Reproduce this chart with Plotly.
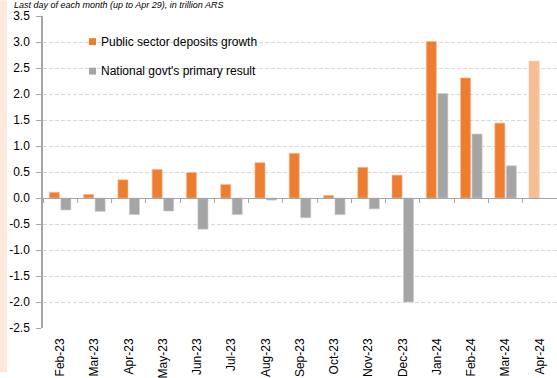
import plotly.graph_objects as go

months = ["Feb-23", "Mar-23", "Apr-23", "May-23", "Jun-23", "Jul-23", "Aug-23",
          "Sep-23", "Oct-23", "Nov-23", "Dec-23", "Jan-24", "Feb-24", "Mar-24", "Apr-24"]
deposits_growth = [0.11, 0.07, 0.35, 0.55, 0.49, 0.26, 0.68, 0.86, 0.05, 0.59, 0.44,
                   3.01, 2.31, 1.44, 2.63]
primary_result = [-0.23, -0.26, -0.32, -0.25, -0.60, -0.32, -0.04, -0.38, -0.32, -0.21,
                  -2.00, 2.01, 1.23, 0.62, None]
y_ticks = [-2.5, -2.0, -1.5, -1.0, -0.5, 0.0, 0.5, 1.0, 1.5, 2.0, 2.5, 3.0, 3.5]

ORANGE = "#ED7D31"
ORANGE_LIGHT = "#F5BE96"
GRAY = "#A5A5A5"
FONT = "Liberation Sans"

W, H = 557, 378
ML, MR, MT, MB = 43, 0, 16, 45
ph = H - MT - MB

dep_colors = [ORANGE] * (len(months) - 1) + [ORANGE_LIGHT]
dep_lines = ["#F6C09C"] * (len(months) - 1) + [ORANGE_LIGHT]

fig = go.Figure()
fig.add_trace(go.Bar(x=months, y=deposits_growth, name="Public sector deposits growth",
                     marker=dict(color=dep_colors, line=dict(color=dep_lines, width=0.6)),
                     showlegend=False))
fig.add_trace(go.Bar(x=months, y=primary_result, name="National govt's primary result",
                     marker=dict(color=GRAY, line=dict(color="#CFCFCF", width=0.6)),
                     showlegend=False))
# invisible trace on the zero-line axis (for its tick marks)
fig.add_trace(go.Scatter(x=months, y=[None] * len(months), xaxis="x2", mode="markers",
                         showlegend=False, hoverinfo="skip"))

zero_pos = (0 - (-2.5)) / (3.5 - (-2.5))

fig.update_layout(
    width=W, height=H,
    margin=dict(l=ML, r=MR, t=MT, b=MB, pad=0),
    paper_bgcolor="white", plot_bgcolor="white",
    barmode="group", bargap=0.33, bargroupgap=0.12,
    font=dict(family=FONT, size=12, color="#000000"),
    xaxis=dict(type="category", categoryorder="array", categoryarray=months,
               range=[-0.5, len(months) - 0.5],
               showline=False, showgrid=False, zeroline=False,
               ticks="", tickangle=-90, ticklabelstandoff=7,
               tickfont=dict(family=FONT, size=12, color="#000000")),
    xaxis2=dict(type="category", categoryorder="array", categoryarray=months,
                overlaying="x", anchor="free", position=zero_pos, matches="x",
                range=[-0.5, len(months) - 0.5],
                showline=True, linecolor="#A6A6A6", linewidth=1,
                ticks="outside", ticklen=4, tickcolor="#A6A6A6", tickwidth=1,
                tickson="boundaries", showticklabels=False, showgrid=False,
                zeroline=False, side="bottom"),
    yaxis=dict(range=[-2.5, 3.5], tickvals=y_ticks,
               ticktext=[f"{v:.1f}" for v in y_ticks],
               showline=True, linecolor="#A6A6A6", linewidth=1.5,
               ticks="outside", ticklen=5, tickcolor="#A6A6A6",
               showgrid=True, gridcolor="#D9D9D9", gridwidth=1, griddash="4px,2px",
               zeroline=False, ticklabelstandoff=4,
               tickfont=dict(family=FONT, size=12, color="#000000")),
    showlegend=False,
)

# left peach strip
fig.add_shape(type="rect", xref="paper", yref="paper",
              x0=-ML / (W - ML - MR), x1=(7 - ML) / (W - ML - MR),
              y0=-MB / ph, y1=1 + MT / ph, fillcolor="#FDE9DC", line=dict(width=0),
              layer="below")

# legend (custom)
legend_items = [("Public sector deposits growth", ORANGE, 42),
                ("National govt's primary result", GRAY, 72)]
pw = W - ML - MR
for label, col, ypx in legend_items:
    yc = 1 - (ypx - MT) / ph
    fig.add_shape(type="rect", xref="paper", yref="paper",
                  x0=(89 - ML) / pw, x1=(96 - ML) / pw,
                  y0=yc - 3.5 / ph, y1=yc + 3.5 / ph,
                  fillcolor=col, line=dict(width=0))
    fig.add_annotation(text=label, xref="paper", yref="paper",
                       x=(99 - ML) / pw, y=yc, xanchor="left", yanchor="middle",
                       showarrow=False, font=dict(family=FONT, size=12, color="#000000"))

# subtitle at the very top
fig.add_annotation(text="<i>Last day of each month (up to Apr 29), in trillion ARS</i>",
                   xref="paper", yref="paper", x=(12 - ML) / pw, y=1 + (MT - 4.5) / ph,
                   xanchor="left", yanchor="middle", showarrow=False,
                   font=dict(family=FONT, size=9, color="#000000"))

fig.write_html("out.html")
